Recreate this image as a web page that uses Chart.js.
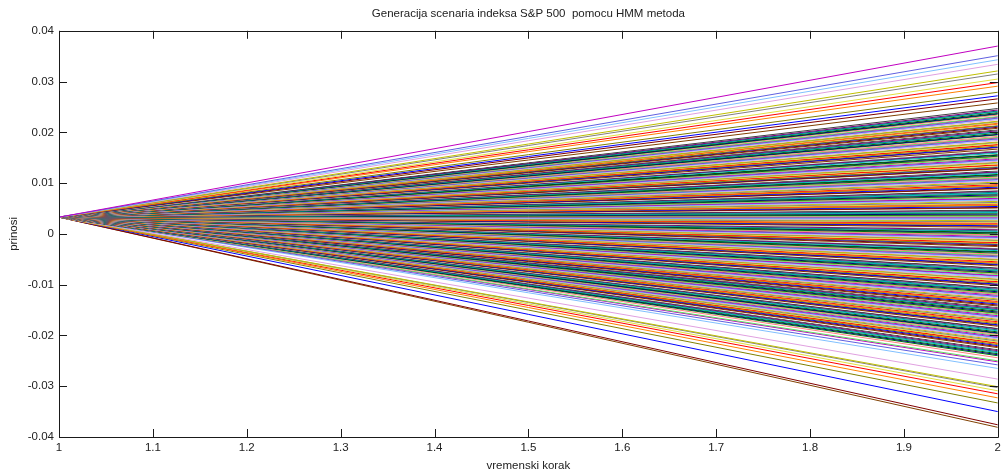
<!DOCTYPE html>
<html>
<head>
<meta charset="utf-8">
<script src="https://cdn.jsdelivr.net/npm/chart.js@4.4.1/dist/chart.umd.min.js"></script>
<style>
    html, body { margin: 0; padding: 0; background: #fff; }
    #wrap { width: 1005px; height: 474px; }
</style>
</head>
<body>
<div id="wrap"><canvas id="scenarios"></canvas></div>
<script>
// =========================
// DADOS
// =========================
const xSteps = [1, 2];
const startReturn = 0.0033;

const xTickLabels = ['1', '1.1', '1.2', '1.3', '1.4', '1.5', '1.6', '1.7', '1.8', '1.9', '2'];
const yTickLabels = ['-0.04', '-0.03', '-0.02', '-0.01', '0', '0.01', '0.02', '0.03', '0.04'];

// krajnji prinosi (x = 2), procijenjeni sa slike
const endReturns = [
    0.0370, 0.0351, 0.0343, 0.0334, 0.0321, 0.0315, 0.0305, 0.0298, 0.0291, 0.0279,
    0.0272, 0.0266, 0.0258, 0.0252, 0.0247,
    0.0244, 0.0242, 0.0241, 0.0239, 0.0237, 0.0236, 0.0234, 0.0231, 0.0230, 0.0228,
    0.0227, 0.0225, 0.0222, 0.0221, 0.0219, 0.0218, 0.0216, 0.0213, 0.0212, 0.0210,
    0.0208, 0.0207, 0.0205, 0.0203, 0.0201, 0.0200, 0.0198, 0.0196, 0.0195, 0.0192,
    0.0190, 0.0189, 0.0187, 0.0186, 0.0184, 0.0181, 0.0180, 0.0178, 0.0176, 0.0175,
    0.0173, 0.0171, 0.0170, 0.0167, 0.0165, 0.0164, 0.0162, 0.0161, 0.0159, 0.0156,
    0.0155, 0.0153, 0.0152, 0.0150, 0.0148, 0.0146, 0.0145, 0.0143, 0.0141, 0.0140,
    0.0138, 0.0136, 0.0135, 0.0132, 0.0131, 0.0129, 0.0128, 0.0126, 0.0124, 0.0122,
    0.0121, 0.0119, 0.0117, 0.0116, 0.0114, 0.0112, 0.0110, 0.0109, 0.0107, 0.0106,
    0.0104, 0.0102, 0.0100, 0.0099, 0.0097, 0.0095, 0.0094, 0.0092, 0.0090, 0.0089,
    0.0087, 0.0085, 0.0084, 0.0082, 0.0080, 0.0079, 0.0077, 0.0075, 0.0074, 0.0072,
    0.0070, 0.0069, 0.0067, 0.0066, 0.0064, 0.0062, 0.0060, 0.0059, 0.0057, 0.0056,
    0.0054, 0.0052, 0.0051, 0.0049, 0.0047, 0.0046, 0.0044, 0.0042, 0.0041, 0.0039,
    0.0037, 0.0036, 0.0034, 0.0033, 0.0031, 0.0029, 0.0028, 0.0026, 0.0024, 0.0023,
    0.0021, 0.0019, 0.0018, 0.0016, 0.0015, 0.0013, 0.0011, 0.0010, 0.0008, 0.0006,
    0.0005, 0.0003, 0.0002, 0.0000, -0.0002, -0.0003, -0.0005, -0.0007, -0.0008, -0.0010,
    -0.0012, -0.0013, -0.0015, -0.0017, -0.0018, -0.0020, -0.0021, -0.0023, -0.0025, -0.0027,
    -0.0028, -0.0030, -0.0031, -0.0033, -0.0035, -0.0036, -0.0038, -0.0040, -0.0042, -0.0043,
    -0.0045, -0.0046, -0.0048, -0.0050, -0.0051, -0.0053, -0.0055, -0.0057, -0.0058, -0.0060,
    -0.0061, -0.0063, -0.0065, -0.0067, -0.0068, -0.0070, -0.0072, -0.0073, -0.0075, -0.0077,
    -0.0078, -0.0080, -0.0082, -0.0083, -0.0085, -0.0087, -0.0089, -0.0090, -0.0092, -0.0094,
    -0.0095, -0.0097, -0.0099, -0.0100, -0.0102, -0.0104, -0.0106, -0.0107, -0.0109, -0.0111,
    -0.0112, -0.0114, -0.0116, -0.0118, -0.0119, -0.0121, -0.0123, -0.0124, -0.0126, -0.0128,
    -0.0130, -0.0131, -0.0133, -0.0135, -0.0136, -0.0138, -0.0140, -0.0142, -0.0143, -0.0145,
    -0.0147, -0.0149, -0.0150, -0.0152, -0.0154, -0.0156, -0.0157, -0.0159, -0.0161, -0.0163,
    -0.0164, -0.0166, -0.0168, -0.0170, -0.0171, -0.0173, -0.0175, -0.0177, -0.0179, -0.0180,
    -0.0182, -0.0184, -0.0186, -0.0187, -0.0189, -0.0191, -0.0193, -0.0195, -0.0196, -0.0198,
    -0.0200, -0.0202, -0.0204, -0.0205, -0.0207, -0.0209, -0.0211, -0.0213, -0.0215, -0.0216,
    -0.0218, -0.0220, -0.0222, -0.0224, -0.0226, -0.0228, -0.0230, -0.0232, -0.0234, -0.0236,
    -0.0238, -0.0240,
    -0.0244, -0.0250, -0.0252, -0.0258, -0.0265, -0.0286, -0.0301, -0.0303, -0.0309, -0.0315,
    -0.0323, -0.0333, -0.0350, -0.0376, -0.0381
];

// =========================
// BOJE
// =========================
const palette = [
    '#c000c0', '#0000ff', '#008000', '#ff0000', '#00bfbf', '#bfbf00', '#404040',
    '#6060e0', '#800000', '#ff8080', '#ff8000', '#006000', '#808080', '#800080',
    '#80c0ff', '#804000', '#60e060', '#808000', '#000080', '#e0e040', '#008080',
    '#e0a0e0', '#ffffff'
];

const datasets = endReturns.map((v, i) => ({
    data: [
        { x: xSteps[0], y: startReturn },
        { x: xSteps[1], y: v }
    ],
    borderColor: palette[(i * 7) % palette.length],
    borderWidth: 1,
    pointRadius: 0,
    fill: false,
    tension: 0
}));

// =========================
// OKVIR I CRTICE (MATLAB stil)
// =========================
const boxPlugin = {
    id: 'matlabBox',
    afterDraw(chart) {
        const { ctx, chartArea: a, scales } = chart;
        const len = 8;
        ctx.save();
        ctx.strokeStyle = '#1a1a1a';
        ctx.lineWidth = 1;
        ctx.beginPath();
        ctx.rect(Math.round(a.left) + 0.5, Math.round(a.top) + 0.5,
            Math.round(a.right - a.left), Math.round(a.bottom - a.top));
        ctx.stroke();

        ctx.beginPath();
        xTickLabels.forEach(t => {
            const px = Math.round(scales.x.getPixelForValue(parseFloat(t))) + 0.5;
            ctx.moveTo(px, a.top); ctx.lineTo(px, a.top + len);
            ctx.moveTo(px, a.bottom); ctx.lineTo(px, a.bottom - len);
        });
        yTickLabels.forEach(t => {
            const py = Math.round(scales.y.getPixelForValue(parseFloat(t))) + 0.5;
            ctx.moveTo(a.left, py); ctx.lineTo(a.left + len, py);
            ctx.moveTo(a.right, py); ctx.lineTo(a.right - len, py);
        });
        ctx.stroke();
        ctx.restore();
    }
};

const font = { family: '"Liberation Sans", Arial, sans-serif', size: 11.5 };

new Chart(document.getElementById('scenarios'), {
    type: 'line',
    data: { datasets },
    options: {
        responsive: true,
        maintainAspectRatio: false,
        animation: false,
        events: [],
        layout: { padding: { left: 0, right: 7, top: 0, bottom: 0 } },
        plugins: {
            legend: { display: false },
            tooltip: { enabled: false },
            title: {
                display: true,
                fullSize: false,
                text: 'Generacija scenaria indeksa S&P 500  pomocu HMM metoda',
                color: '#222',
                font: { ...font, weight: 'normal' },
                padding: { top: 7, bottom: 10 }
            }
        },
        scales: {
            x: {
                type: 'linear',
                min: 1,
                max: 2,
                afterBuildTicks(scale) {
                    scale.ticks = xTickLabels.map(t => ({ value: parseFloat(t) }));
                },
                afterFit(scale) { scale.height = 37; },
                grid: { display: false, drawTicks: false },
                border: { display: false },
                ticks: {
                    color: '#222',
                    font,
                    padding: 4,
                    maxRotation: 0,
                    autoSkip: false,
                    callback: (v, i) => xTickLabels[i]
                },
                title: {
                    display: true,
                    text: 'vremenski korak',
                    color: '#222',
                    font,
                    padding: { top: 0, bottom: 1 }
                }
            },
            y: {
                type: 'linear',
                min: -0.04,
                max: 0.04,
                afterBuildTicks(scale) {
                    scale.ticks = yTickLabels.map(t => ({ value: parseFloat(t) }));
                },
                afterFit(scale) { scale.width = 59; },
                grid: { display: false, drawTicks: false },
                border: { display: false },
                ticks: {
                    color: '#222',
                    font,
                    padding: 5,
                    autoSkip: false,
                    callback: (v, i) => yTickLabels[i]
                },
                title: {
                    display: true,
                    text: 'prinosi',
                    color: '#222',
                    font,
                    padding: { top: 7, bottom: 0 }
                }
            }
        }
    },
    plugins: [boxPlugin]
});
</script>
</body>
</html>
